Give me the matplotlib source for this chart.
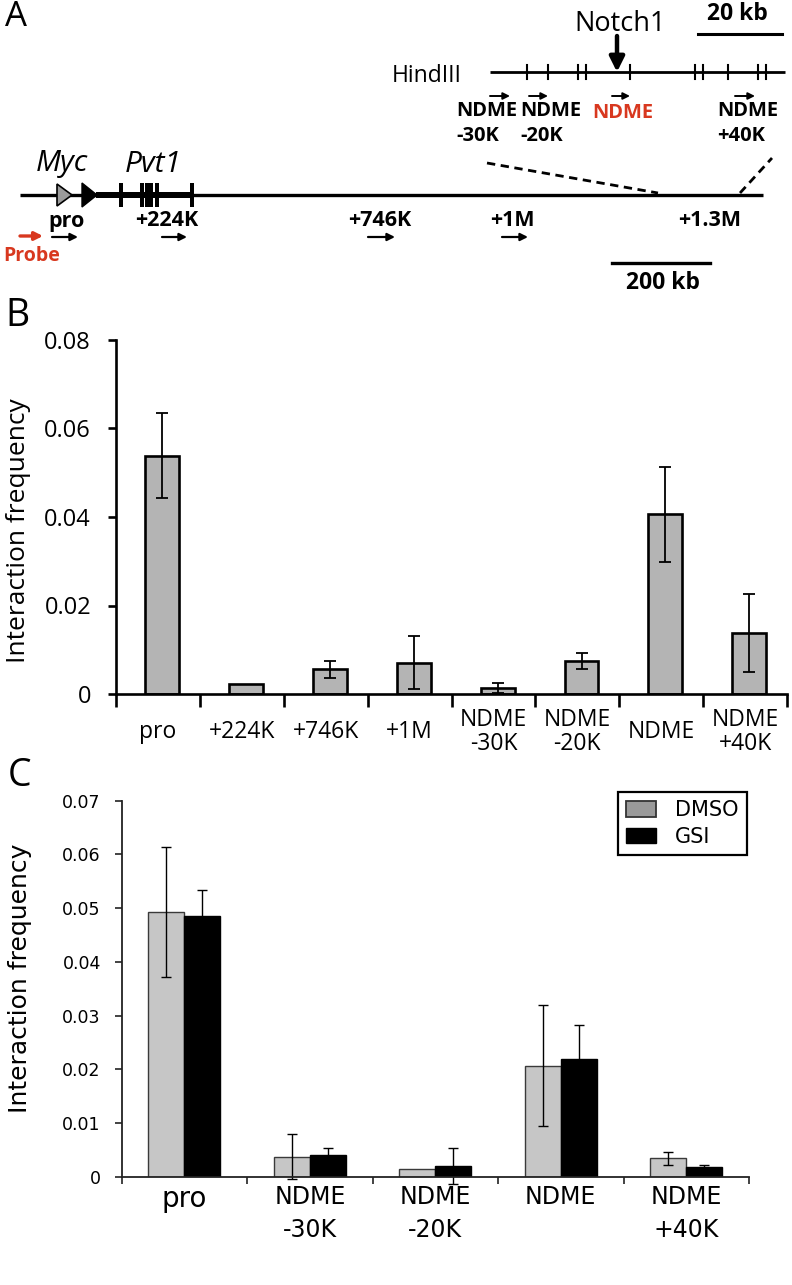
import numpy as np
import matplotlib
matplotlib.use('Agg')
import matplotlib.pyplot as plt
from matplotlib.patches import Polygon, Rectangle, Patch

# ---------------- data ----------------
b_labels = ['pro', '+224K', '+746K', '+1M', 'NDME\n-30K', 'NDME\n-20K', 'NDME', 'NDME\n+40K']
b_values = [0.0538, 0.0022, 0.0056, 0.0071, 0.0014, 0.0075, 0.0406, 0.0138]
b_errors = [0.0096, np.nan, 0.0019, 0.0059, 0.0011, 0.0018, 0.0108, 0.0089]
b_yticks = [0, 0.02, 0.04, 0.06, 0.08]
b_yticklabels = ['0', '0.02', '0.04', '0.06', '0.08']

c_labels = ['pro', 'NDME\n-30K', 'NDME\n-20K', 'NDME', 'NDME\n+40K']
c_series = ['DMSO', 'GSI']
c_dmso = [0.0492, 0.0037, 0.0014, 0.0207, 0.0034]
c_dmso_err = [0.0121, 0.0042, np.nan, 0.0113, 0.0012]
c_gsi = [0.0486, 0.0040, 0.0020, 0.0219, 0.0018]
c_gsi_err = [0.0047, 0.0013, 0.0034, 0.0064, 0.0003]
c_yticks = [0, 0.01, 0.02, 0.03, 0.04, 0.05, 0.06, 0.07]
c_yticklabels = ['0', '0.01', '0.02', '0.03', '0.04', '0.05', '0.06', '0.07']

# panel A schematic content (pixel layout of the diagram)
hind3_sites = [527, 548, 578, 586, 630, 695, 703, 728, 758, 766]
pvt1_exons = [121, 142, 147, 151, 157, 192]
main_primers = ['pro', '+224K', '+746K', '+1M', '+1.3M']
main_primer_label_x = [67, 167, 380, 512, 710]
main_primer_arrows = [(52, 78), (162, 187), (368, 395), (502, 528)]
inset_primers = [('NDME', '-30K', 456, (490, 510)),
                 ('NDME', '-20K', 520, (529, 548)),
                 ('NDME', '+40K', 717, (735, 755))]

RED = '#d8381f'
W, H = 792, 1285
fig = plt.figure(figsize=(W / 100, H / 100), dpi=100)

SANS = 'Open Sans'

# ---------------- Panel A ----------------
axA = fig.add_axes([0, 1 - 300 / H, 1, 300 / H])
axA.set_xlim(0, W)
axA.set_ylim(300, 0)
axA.axis('off')

def arrow(ax, x0, x1, y, color='black', lw=1.6, ms=11):
    ax.annotate('', xy=(x1, y), xytext=(x0, y),
                arrowprops=dict(arrowstyle='-|>', lw=lw, color=color,
                                mutation_scale=ms, shrinkA=0, shrinkB=0))

# inset (HindIII map)
axA.text(392, 76, 'HindIII', fontsize=16.5, family=SANS, ha='left', va='center')
axA.plot([490, 785], [72, 72], color='black', lw=2.0, solid_capstyle='butt')
for s in hind3_sites:
    axA.plot([s, s], [65, 79], color='black', lw=1.5)
axA.text(620, 24, 'Notch1', fontsize=19.5, family=SANS, ha='center', va='center')
axA.annotate('', xy=(617, 72), xytext=(617, 36),
             arrowprops=dict(arrowstyle='-|>', lw=3.2, color='black',
                             mutation_scale=22, shrinkA=0, shrinkB=0))
axA.plot([698, 782], [34, 34], color='black', lw=2.2)
axA.text(737, 14, '20 kb', fontsize=16.5, family=SANS, weight='bold', ha='center', va='center')

for top, bot, xl, (a0, a1) in inset_primers:
    arrow(axA, a0, a1, 96, lw=1.4, ms=10)
    axA.text(xl, 111, top, fontsize=14.5, family=SANS, weight='bold', ha='left', va='center')
    axA.text(xl, 136, bot, fontsize=14.5, family=SANS, weight='bold', ha='left', va='center')
arrow(axA, 612, 630, 96, lw=1.4, ms=10)
axA.text(623, 113, 'NDME', fontsize=14.5, family=SANS, weight='bold', color=RED,
         ha='center', va='center')

# zoom dashed lines
axA.plot([487, 658], [163, 193], color='black', lw=2.0, ls=(0, (3, 2)))
axA.plot([740, 772], [193, 158], color='black', lw=2.0, ls=(0, (3, 2)))

# main locus
axA.plot([20, 763], [195, 195], color='black', lw=2.4, solid_capstyle='butt')
axA.add_patch(Polygon([(57, 184), (57, 206), (72, 195)], closed=True,
                      facecolor='#9b9b9b', edgecolor='black', lw=1.2, zorder=3))
axA.add_patch(Polygon([(82, 183), (82, 207), (97, 195)], closed=True,
                      facecolor='black', edgecolor='black', lw=1.0, zorder=3))
axA.add_patch(Rectangle((96, 192), 97, 6, facecolor='black', edgecolor='none', zorder=3))
for e in pvt1_exons:
    axA.add_patch(Rectangle((e - 2, 183), 4, 24, facecolor='black', edgecolor='none', zorder=3))
axA.text(62, 164, 'Myc', fontsize=21.5, family=SANS, style='italic', ha='center', va='center')
axA.text(153, 164, 'Pvt1', fontsize=21.5, family=SANS, style='italic', ha='center', va='center')

for lab, x in zip(main_primers, main_primer_label_x):
    axA.text(x, 221, lab, fontsize=15.5, family=SANS, weight='bold', ha='center', va='center')
for a0, a1 in main_primer_arrows:
    arrow(axA, a0, a1, 237, lw=1.6, ms=11)
arrow(axA, 20, 43, 236, color=RED, lw=2.4, ms=12)
axA.text(32, 256, 'Probe', fontsize=14, family=SANS, weight='bold', color=RED,
         ha='center', va='center')
axA.plot([612, 710], [263, 263], color='black', lw=2.4)
axA.text(663, 283, '200 kb', fontsize=16.5, family=SANS, weight='bold', ha='center', va='center')

# ---------------- Panel B ----------------
bl, br, bt, bb = 116, 787, 340, 694
axB = fig.add_axes([bl / W, 1 - bb / H, (br - bl) / W, (bb - bt) / H])
xb = np.arange(len(b_labels))
barsB = axB.bar(xb + 0.05, b_values, width=0.405, color='#b4b4b4', edgecolor='black', linewidth=1.9,
                yerr=b_errors, error_kw=dict(ecolor='black', elinewidth=1.3, capsize=4.5, capthick=1.3),
                zorder=2)
axB.set_xlim(-0.5, len(b_labels) - 0.5)
axB.set_ylim(0, 0.08)
for s in ['top', 'right']:
    axB.spines[s].set_visible(False)
for s in ['left', 'bottom']:
    axB.spines[s].set_linewidth(1.9)
axB.set_yticks(b_yticks)
axB.set_yticklabels(b_yticklabels, family=SANS, fontsize=17)
axB.tick_params(axis='y', direction='out', length=6, width=1.9, pad=12)
axB.set_xticks(np.arange(len(b_labels) + 1) - 0.5)
axB.set_xticklabels([])
axB.tick_params(axis='x', which='major', direction='out', length=9.5, width=1.9)
axB.set_xticks(xb, minor=True)
axB.set_xticklabels(b_labels, minor=True, family=SANS, fontsize=16.5, linespacing=1.0)
axB.tick_params(axis='x', which='minor', length=0, pad=27)
for t in axB.get_xticklabels(minor=True):
    t.set_va('center')
axB.set_ylabel('Interaction frequency', family=SANS, fontsize=19, va='center')
axB.yaxis.set_label_coords((19 - bl) / (br - bl), (bb - 531) / (bb - bt))

# ---------------- Panel C ----------------
cl, cr, ct, cb = 121.7, 749, 800.7, 1176.7
axC = fig.add_axes([cl / W, 1 - cb / H, (cr - cl) / W, (cb - ct) / H])
xc = np.arange(len(c_labels))
wc = 0.287
ekw = dict(ecolor='black', elinewidth=1.0, capsize=3.5, capthick=1.0)
b1 = axC.bar(xc - wc / 2, c_dmso, width=wc, color='#c6c6c6', edgecolor='#3a3a3a', linewidth=1.0,
             yerr=c_dmso_err, error_kw=ekw, label=c_series[0], zorder=2)
b2 = axC.bar(xc + wc / 2, c_gsi, width=wc, color='black', edgecolor='black', linewidth=1.0,
             yerr=c_gsi_err, error_kw=ekw, label=c_series[1], zorder=2)
for bc in (b1, b2):
    line, caps, cols = bc.errorbar.lines
    for a in list(caps) + list(cols):
        a.set_clip_on(False)
axC.set_xlim(-0.5, len(c_labels) - 0.5)
axC.set_ylim(0, 0.07)
for s in ['top', 'right']:
    axC.spines[s].set_visible(False)
for s in ['left', 'bottom']:
    axC.spines[s].set_linewidth(1.3)
    axC.spines[s].set_color('#222222')
axC.set_yticks(c_yticks)
axC.set_yticklabels(c_yticklabels, family='DejaVu Sans', fontsize=12.5)
axC.tick_params(axis='y', direction='out', length=5, width=1.2, pad=10, color='#222222')
axC.set_xticks(np.arange(len(c_labels) + 1) - 0.5)
axC.set_xticklabels([])
axC.tick_params(axis='x', which='major', direction='out', length=5, width=1.2, color='#222222')
axC.set_xticks(xc, minor=True)
axC.set_xticklabels(c_labels, minor=True, family='DejaVu Sans', fontsize=17, linespacing=1.45)
axC.tick_params(axis='x', which='minor', length=0, pad=6)
axC.get_xticklabels(minor=True)[0].set_fontsize(20)
axC.set_ylabel('Interaction frequency', family='DejaVu Sans', fontsize=18, va='center')
axC.yaxis.set_label_coords((20 - cl) / (cr - cl), (cb - 978) / (cb - ct))

handles = [Patch(facecolor='#9a9a9a', edgecolor='#333333', lw=1.3, label=c_series[0]),
           Patch(facecolor='black', edgecolor='black', label=c_series[1])]
leg = axC.legend(handles=handles, loc='upper right', bbox_to_anchor=((747 - cl) / (cr - cl), (cb - 792) / (cb - ct)),
                 borderaxespad=0, fancybox=False, framealpha=1, edgecolor='black',
                 prop={'family': 'DejaVu Sans', 'size': 15}, handlelength=1.45, handleheight=0.75,
                 borderpad=0.4, labelspacing=0.3, handletextpad=0.9)
leg.get_frame().set_linewidth(1.6)

# panel letters
fig.text(16 / W, 1 - 17 / H, 'A', fontsize=25, family=SANS, ha='center', va='center')
fig.text(17 / W, 1 - 316 / H, 'B', fontsize=27, family=SANS, ha='center', va='center')
fig.text(20 / W, 1 - 776 / H, 'C', fontsize=27, family=SANS, ha='center', va='center')

fig.savefig('out.png', dpi=100)
